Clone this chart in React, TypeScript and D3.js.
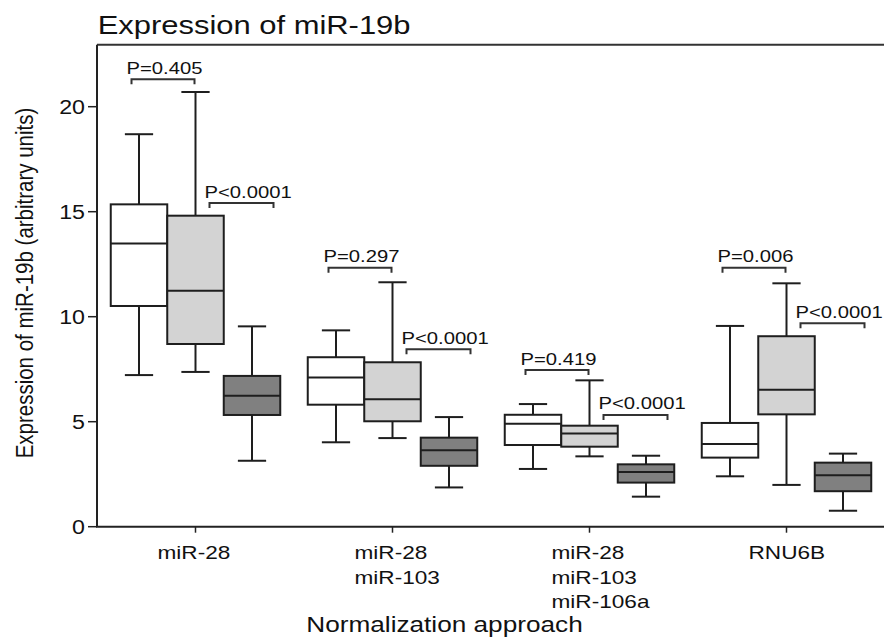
import React from "react";
import * as d3 from "d3";

const groups = ["miR-28", "miR-28\nmiR-103", "miR-28\nmiR-103\nmiR-106a", "RNU6B"];
const series = ["A", "B", "C"];
const seriesFill = ["#ffffff", "#d3d3d3", "#808080"];

// [min, q1, median, q3, max] per group for each series
const whiteBoxes = [
  [7.22, 10.51, 13.48, 15.35, 18.69],
  [4.02, 5.81, 7.11, 8.07, 9.35],
  [2.75, 3.89, 4.9, 5.33, 5.84],
  [2.4, 3.29, 3.94, 4.94, 9.56],
];
const greyBoxes = [
  [7.37, 8.7, 11.24, 14.81, 20.7],
  [4.22, 5.02, 6.07, 7.83, 11.64],
  [3.35, 3.81, 4.44, 4.81, 6.97],
  [1.99, 5.35, 6.52, 9.07, 11.59],
];
const darkBoxes = [
  [3.14, 5.32, 6.24, 7.18, 9.54],
  [1.87, 2.9, 3.64, 4.24, 5.22],
  [1.43, 2.1, 2.6, 2.97, 3.38],
  [0.76, 1.69, 2.45, 3.05, 3.48],
];

// p-value annotations: first compares white vs grey, second grey vs dark
const pLabels1 = ["P=0.405", "P=0.297", "P=0.419", "P=0.006"];
const pLevels1 = [21.31, 12.33, 7.46, 12.33];
const pLabels2 = ["P<0.0001", "P<0.0001", "P<0.0001", "P<0.0001"];
const pLevels2 = [15.41, 8.45, 5.32, 9.69];

const yTicks = [0, 5, 10, 15, 20];

const W = 884;
const H = 637;
const left = 97;
const right = 885;
const top = 44.7;
const bottom = 526.7;
const SX = 1.19;
const FONT = "'Liberation Sans', Arial, sans-serif";
const INK = "#1e1e1e";

function SText({ x, y, size, anchor = "start", children }: any) {
  return (
    <text
      transform={`translate(${x},${y}) scale(${SX},1)`}
      fontSize={size}
      textAnchor={anchor}
      fontFamily={FONT}
      fill="#111"
    >
      {children}
    </text>
  );
}

export default function App() {
  const x = d3.scaleBand<string>().domain(groups).range([left, right]).paddingInner(0).paddingOuter(0);
  const bw = x.bandwidth();
  const boxW = 56.5;
  const inner = d3.scaleBand<string>().domain(series).range([-1.5 * boxW, 1.5 * boxW]);
  const y = d3.scaleLinear().domain([0, (bottom - top) / 21]).range([bottom, top]);
  const all = [whiteBoxes, greyBoxes, darkBoxes];

  const center = (g: string) => (x(g) as number) + bw / 2;

  return (
    <svg width={W} height={H} style={{ position: "absolute", left: 0, top: 0, background: "#fff" }}>
      <rect x={0} y={0} width={W} height={H} fill="#fff" />
      {/* title */}
      <SText x={97.7} y={34.3} size={26}>Expression of miR-19b</SText>

      {/* frame */}
      <line x1={left} x2={W} y1={top} y2={top} stroke="#333" strokeWidth={2} />
      <line x1={left} x2={left} y1={top} y2={bottom} stroke="#222" strokeWidth={2} />
      <line x1={left - 1} x2={W} y1={bottom} y2={bottom} stroke="#222" strokeWidth={2} />

      {/* y ticks */}
      {yTicks.map((t) => (
        <g key={t}>
          <line x1={left - 9} x2={left} y1={y(t)} y2={y(t)} stroke="#222" strokeWidth={1.5} />
          <SText x={85} y={y(t) + 7} size={19.5} anchor="end">{t}</SText>
        </g>
      ))}
      <text
        transform={`translate(33.3,283) rotate(-90) scale(1,${SX})`}
        fontSize={20.5}
        textAnchor="middle"
        fontFamily={FONT}
        fill="#111"
      >
        Expression of miR-19b (arbitrary units)
      </text>

      {/* x ticks and labels */}
      {groups.map((g) => (
        <g key={g}>
          <line x1={center(g)} x2={center(g)} y1={bottom} y2={bottom + 6} stroke="#222" strokeWidth={1.5} />
          {g.split("\n").map((ln, i) => (
            <SText key={i} x={center(g) - 38} y={559 + i * 24.5} size={19}>{ln}</SText>
          ))}
        </g>
      ))}
      <SText x={444.5} y={632} size={22} anchor="middle">Normalization approach</SText>

      {/* boxes */}
      {groups.map((g, gi) =>
        series.map((s, si) => {
          const [mn, q1, md, q3, mx] = all[si][gi];
          const cx = center(g) + (inner(s) as number) + inner.bandwidth() / 2;
          const cap = boxW / 2;
          return (
            <g key={g + s} stroke={INK} strokeWidth={2}>
              <line x1={cx} x2={cx} y1={y(q3)} y2={y(mx)} />
              <line x1={cx} x2={cx} y1={y(q1)} y2={y(mn)} />
              <line x1={cx - cap / 2} x2={cx + cap / 2} y1={y(mx)} y2={y(mx)} />
              <line x1={cx - cap / 2} x2={cx + cap / 2} y1={y(mn)} y2={y(mn)} />
              <rect x={cx - boxW / 2} width={boxW} y={y(q3)} height={y(q1) - y(q3)} fill={seriesFill[si]} />
              <line x1={cx - boxW / 2} x2={cx + boxW / 2} y1={y(md)} y2={y(md)} />
            </g>
          );
        })
      )}

      {/* p-value brackets */}
      {groups.map((g, gi) => {
        const c = center(g);
        const brs = [
          { x1: c - 64, x2: c - 1, lv: pLevels1[gi], lab: pLabels1[gi] },
          { x1: c + 14, x2: c + 78, lv: pLevels2[gi], lab: pLabels2[gi] },
        ];
        return brs.map((b, i) => (
          <g key={g + i}>
            <path
              d={`M${b.x1},${y(b.lv) + 5}V${y(b.lv)}H${b.x2}V${y(b.lv) + 5}`}
              fill="none"
              stroke="#333"
              strokeWidth={2}
            />
            <SText x={b.x1 - 5} y={y(b.lv) - 5.5} size={17}>{b.lab}</SText>
          </g>
        ));
      })}
    </svg>
  );
}
